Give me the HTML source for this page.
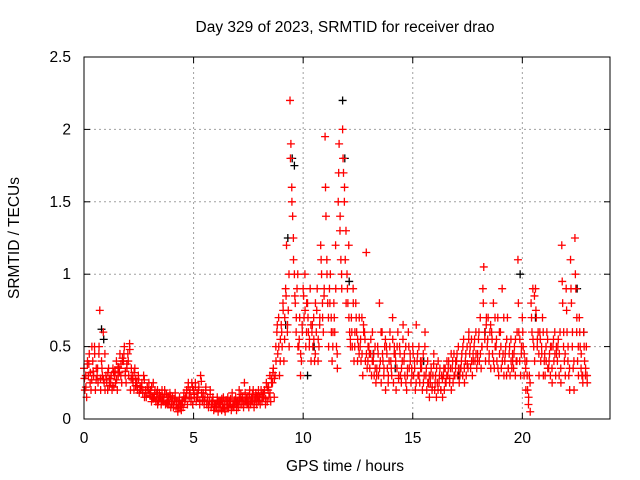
<!DOCTYPE html>
<html><head><meta charset="utf-8"><style>
html,body{margin:0;padding:0;background:#fff}
svg{display:block;font-family:"Liberation Sans",sans-serif}
</style></head><body>
<svg id="chart" width="640" height="480">
<text x="345" y="32" text-anchor="middle" font-size="15.5">Day 329 of 2023, SRMTID for receiver drao</text>
<text x="345" y="471" text-anchor="middle" font-size="15.5">GPS time / hours</text>
<text transform="translate(19,238) rotate(-90)" text-anchor="middle" font-size="15.5">SRMTID / TECUs</text>
<g id="grid"></g><g id="black"></g><g id="red"></g><g id="axes"></g>
</svg>
<script>
const xTicks=[0,5,10,15,20];
const yTicks=[0,0.5,1,1.5,2,2.5];
const yTickLabels=["0","0.5","1","1.5","2","2.5"];
const binStart=0, binStep=0.2;
const redBins=[
".35 .2 .3 .15 .4",".3 .45 .25 .2 .5",".4 .3 .5 .2 .35",".3 .25 .45 .75 .2",".4 .3 .6 .25 .2",
".3 .25 .2 .35 .28",".25 .3 .2 .35 .22",".3 .25 .4 .2 .3",".35 .45 .3 .25 .4",".4 .5 .3 .25 .35",
".45 .3 .52 .2 .35",".3 .25 .2 .35 .28",".25 .2 .3 .18 .22",".2 .25 .18 .3 .15",".2 .15 .22 .18 .25",
".18 .2 .12 .15 .25",".15 .2 .12 .18 .1",".12 .18 .15 .1 .2",".15 .12 .2 .1 .17",".12 .15 .1 .18 .08",
".1 .15 .08 .12 .18",".08 .12 .05 .1 .15",".1 .06 .13 .08 .18",".12 .15 .2 .1 .25",".15 .2 .12 .25 .1",
".2 .15 .25 .12 .18",".15 .22 .1 .3 .18",".12 .18 .1 .15 .22",".1 .15 .08 .12 .2",".08 .12 .15 .06 .1",
".1 .08 .15 .05 .12",".08 .12 .06 .1 .15",".1 .05 .12 .08 .15",".08 .12 .1 .06 .18",".1 .08 .12 .15 .06",
".12 .08 .2 .1 .15",".1 .15 .08 .25 .12",".12 .1 .15 .08 .2",".1 .15 .12 .2 .08",".12 .18 .1 .15 .2",
".15 .1 .2 .12 .18",".15 .2 .1 .25 .12",".2 .15 .3 .12 .25",".25 .35 .15 .3 .4",".6 .45 .7 .3 .55",
".65 .5 .8 .4 .7",".9 1.2 .6 .75 .5","2.2 1.9 1.6 1.4 1.1","1.0 .8 .6 .9 .5",".5 .7 .3 .4 .6",
".9 .7 1.0 .5 .8",".8 .6 .5 .9 .4",".6 .5 .7 .4 .8",".6 .9 .4 .5 .7","1.2 1.0 .8 .6 .9",
"1.95 1.4 1.1 .8 .5",".9 1.0 .7 .4 .6",".8 .6 1.2 .5 .35","1.5 1.9 1.3 1.1 .9","2.0 1.7 1.5 1.1 .8",
"1.0 .8 1.2 .6 .5",".7 .5 .9 .4 .6",".8 .6 .4 .5 .7",".5 .4 .7 .3 .6",".6 .4 1.15 .35 .5",
".5 .35 .45 .3 .6",".4 .3 .5 .25 .35",".5 .3 .8 .4 .25",".6 .4 .3 .5 .2",".5 .35 .25 .4 .6",
".4 .3 .7 .25 .5",".45 .2 .35 .6 .3",".5 .3 .25 .4 .65",".4 .3 .5 .2 .35",".6 .35 .45 .25 .3",
".5 .3 .4 .2 .65",".4 .3 .5 .25 .35",".35 .2 .45 .3 .6",".3 .2 .4 .25 .15",".25 .35 .2 .3 .45",
".2 .3 .15 .25 .4",".25 .35 .2 .3 .15",".3 .2 .35 .25 .4",".3 .4 .25 .35 .2",".35 .25 .45 .3 .4",
".4 .3 .5 .25 .35",".35 .45 .3 .55 .25",".4 .3 .5 .35 .6",".45 .35 .55 .3 .4",".5 .4 .6 .35 .45",
".55 .4 .7 .35 .5",".9 1.05 .6 .4 .7",".5 .7 .4 .6 .35",".6 .45 .8 .35 .5",".5 .4 .7 .3 .45",
".6 .35 .9 .45 .3",".4 .5 .3 .7 .35",".45 .3 .55 .35 .4",".35 .5 .3 .4 .6","1.1 .6 .4 .3 .5",
".7 .5 .3 .4 .2",".4 .2 .1 .3 .05",".8 .6 .9 .5 .4",".9 .7 .5 .6 .3",".6 .4 .5 .7 .3",
".4 .3 .5 .6 .35",".35 .45 .3 .5 .25",".5 .4 .6 .3 .45",".4 .55 .3 .6 .25","1.2 .8 .5 .4 .3",
".9 .6 .4 .3 .2","1.1 .8 .5 .35 .2","1.25 .9 .6 .4 .3",".7 .5 .35 .3 .25",".6 .4 .3 .5 .25"];
const redBins2=[
".28 .22 .38",".38 .32 .27",".33 .45 .27",".35 .5 .28",".35 .27 .45",
".27 .32 .23",".28 .23 .32",".33 .27 .36",".32 .38 .42",".45 .33 .38",
".4 .48 .28",".27 .32 .23",".23 .27 .2",".22 .2 .27",".18 .22 .2",
".16 .22 .14",".17 .13 .2",".14 .16 .12",".13 .17 .11",".1 .13 .16",
".12 .1 .14",".1 .07 .13",".09 .12 .15",".14 .18 .22",".18 .14 .22",
".17 .22 .15",".2 .13 .26",".15 .13 .2",".12 .1 .17",".1 .13 .08",
".09 .13 .11",".1 .14 .08",".07 .13 .1",".1 .14 .08",".09 .13 .11",
".1 .14 .17",".13 .1 .18",".14 .11 .17",".13 .17 .1",".14 .16 .12",
".13 .17 .15",".18 .14 .22",".22 .18 .28",".32 .28 .5",".65 .5 .4",
".6 .75 .55",".85 .65 1.0","1.8 1.5 1.25",".85 .7 1.0",".55 .45 .65",
".85 .75 .6",".7 .55 .65",".65 .55 .45",".75 .55 .65","1.1 .7 .85",
"1.6 1.0 .7",".8 .6 .5",".7 .9 .45","1.7 1.4 1.0","1.8 1.6 1.3",
".9 .7 .55",".6 .8 .5",".7 .55 .45",".55 .45 .65",".55 .45 .4",
".45 .55 .4",".45 .35 .3",".45 .35 .6",".45 .35 .55",".45 .3 .5",
".35 .55 .45",".4 .5 .28",".45 .35 .55",".45 .25 .3",".5 .4 .35",
".45 .35 .25",".45 .3 .4",".4 .25 .5",".35 .25 .3",".3 .22 .38",
".25 .35 .2",".3 .2 .28",".35 .25 .3",".35 .28 .45",".4 .3 .35",
".45 .35 .3",".4 .5 .35",".45 .38 .55",".5 .4 .45",".55 .45 .4",
".6 .45 .5",".8 .55 .65",".55 .45 .65",".55 .4 .7",".55 .35 .6",
".5 .4 .7",".45 .55 .35",".5 .4 .45",".45 .55 .4",".8 .55 .45",
".6 .45 .35",".3 .15 .25",".7 .55 .85",".75 .55 .45",".55 .45 .6",
".45 .4 .55",".4 .5 .35",".55 .45 .5",".5 .45 .35",".95 .6 .45",
".75 .5 .35",".9 .6 .4","1.0 .7 .5",".6 .45 .3",".5 .35 .3"];
const blackT=[0.8,0.9,9.3,9.5,9.6,10.5,11.8,11.9,12.1,13.2,15.5,18.3,19.9,20.6,22.5,22.8,14.2,17.1,10.2,9.2];
const blackV=[0.62,0.55,1.25,1.8,1.75,0.5,2.2,1.8,0.95,0.45,0.4,0.6,1.0,0.7,0.9,0.6,0.35,0.3,0.3,0.65];
const X0=84,X1=610,Y0=419,Y1=57,XMAX=24,YMAX=2.5;
const sx=v=>X0+(X1-X0)*v/XMAX, sy=v=>Y0-(Y0-Y1)*v/YMAX;
const NS="http://www.w3.org/2000/svg";
function mk(tag,parent,attrs){const e=document.createElementNS(NS,tag);for(const k in attrs)e.setAttribute(k,attrs[k]);parent.appendChild(e);return e;}
const grid=document.getElementById('grid'),axes=document.getElementById('axes');
xTicks.forEach(t=>{
  if(t>0){const l=mk('line',grid,{x1:sx(t),x2:sx(t),y1:Y0,y2:Y1,stroke:'#a0a0a0','stroke-dasharray':'2,3'});
  
  }
  const tk=mk('text',axes,{x:sx(t),y:Y0+24,'text-anchor':'middle','font-size':15.5});tk.textContent=t;
  
  
  mk('line',axes,{x1:sx(t),x2:sx(t),y1:Y0,y2:Y0-6,stroke:'#000'});
  mk('line',axes,{x1:sx(t),x2:sx(t),y1:Y1,y2:Y1+6,stroke:'#000'});
});
yTicks.forEach((t,i)=>{
  if(t>0&&t<YMAX){const l=mk('line',grid,{x1:X0,x2:X1,y1:sy(t),y2:sy(t),stroke:'#a0a0a0','stroke-dasharray':'2,3'});
  
  }
  const tk=mk('text',axes,{x:X0-13,y:sy(t)+5,'text-anchor':'end','font-size':15.5});tk.textContent=yTickLabels[i];
  
  
  mk('line',axes,{x1:X0,x2:X0+6,y1:sy(t),y2:sy(t),stroke:'#000'});
  mk('line',axes,{x1:X1,x2:X1-6,y1:sy(t),y2:sy(t),stroke:'#000'});
});
const fr=mk('rect',axes,{x:X0,y:Y1,width:X1-X0,height:Y0-Y1,fill:'none',stroke:'#000'});


function plus(g,t,v,c){const x=sx(t),y=sy(v);
  const p=mk('path',g,{d:`M${x-4},${y}h8M${x},${y-4}v8`,stroke:c,'stroke-width':1.3,fill:'none'});
  
  }
const bg=document.getElementById('black');
blackT.forEach((t,i)=>plus(bg,t,blackV[i],'#000'));
const rg=document.getElementById('red');
redBins.forEach((s,b)=>{s.split(' ').map(Number).forEach((v,k)=>plus(rg,binStart+b*binStep+k*binStep/5,v,'#f00'));});
redBins2.forEach((s,b)=>{s.split(' ').map(Number).forEach((v,k)=>plus(rg,binStart+b*binStep+binStep/10+k*binStep/3,v,'#f00'));});
</script>
</body></html>
